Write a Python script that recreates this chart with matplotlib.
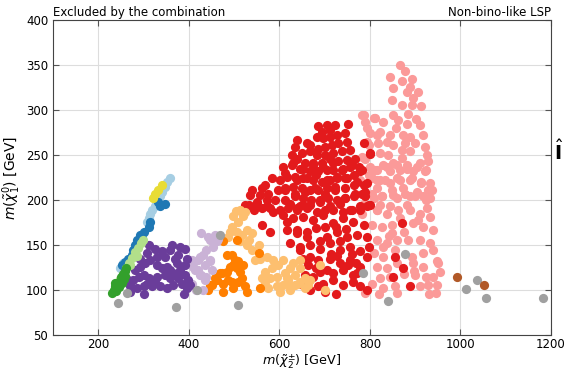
import matplotlib
matplotlib.use("Agg")
import matplotlib.pyplot as plt

# chargino mass (x) / neutralino mass (y) points in GeV, per group
gray_x = [244, 263, 372, 419, 470, 509, 785, 878, 839, 1012, 1036, 1056, 1182]
gray_y = [86, 97, 81, 100, 161, 83, 119, 140, 88, 101, 111, 91, 91]

brown_x = [993, 1051]
brown_y = [114, 106]

pink_x = [867, 878, 892, 845, 870, 889, 852, 881, 907, 896, 914, 848, 870, 892, 852,
          811, 789, 830, 863, 881, 911, 822, 800, 845, 874, 889, 918, 797, 819, 837,
          852, 878, 900, 922, 822, 870, 889, 926, 789, 830, 852, 881, 911, 929, 811,
          845, 867, 896, 922, 804, 833, 859, 889, 914, 933, 815, 848, 874, 903, 929,
          826, 859, 889, 918, 933, 845, 881, 926, 822, 786, 793,
          797, 815, 837, 859, 881, 903, 925, 822, 844, 867, 892, 914, 937, 804, 826,
          852, 878, 900, 925, 815, 837, 863, 889, 911, 933, 804, 826, 848, 896, 918,
          940, 815, 837, 859, 885, 911, 933, 808, 830, 856, 892, 918, 940, 815, 837,
          896, 918, 948, 822, 844, 900, 925, 940, 804, 830, 856, 911, 929, 948,
          790, 820, 860, 930, 945, 950, 955,
          782, 808, 793, 815, 782, 800, 815, 778, 808, 786, 815, 782,
          858, 884, 902, 870, 840, 866, 906, 848, 875, 828, 860, 898, 876, 842]
pink_y = [350, 343, 335, 337, 332, 326, 324, 320, 320, 313, 304, 311, 306, 306, 294,
          291, 287, 287, 289, 285, 283, 276, 274, 272, 272, 270, 272, 261, 263, 265,
          261, 263, 263, 259, 252, 256, 254, 250, 246, 239, 241, 239, 241, 243, 233,
          232, 233, 232, 232, 224, 222, 224, 222, 220, 219, 213, 211, 213, 209, 211,
          204, 202, 204, 204, 202, 193, 194, 191, 194, 294, 280,
          228, 233, 237, 239, 235, 237, 233, 222, 219, 222, 224, 219, 211, 207, 204,
          206, 207, 204, 200, 189, 185, 189, 189, 185, 181, 172, 170, 172, 174, 170,
          167, 156, 152, 156, 156, 156, 152, 141, 137, 144, 137, 141, 144, 126, 124,
          130, 126, 132, 113, 115, 117, 115, 115, 107, 102, 104, 104, 106, 106,
          97, 96, 97, 96, 97, 130, 120,
          294, 291, 265, 272, 248, 237, 222, 222, 202, 196, 189, 185,
          280, 296, 290, 247, 250, 180, 178, 163, 165, 148, 130, 121, 118, 160]

red_x = [686, 705, 723, 712, 694, 683, 697, 712, 727, 745, 752, 749, 730, 716, 701,
         686, 668, 660, 638, 635, 649, 668, 683, 701, 719, 738, 756, 767, 749, 730,
         712, 694, 675, 657, 638, 627, 627, 646, 668, 686, 705, 719, 738, 756, 775,
         778, 764, 745, 727, 712, 694, 675, 653, 635, 613, 602, 583, 568, 561, 539,
         535, 557, 576, 598, 613, 631, 649, 668, 686, 705, 723, 745, 764, 786, 782,
         764, 745, 727, 708, 690, 671, 653, 635, 613, 590, 572, 550, 532, 524, 543,
         561, 579, 602, 620, 638, 660, 683, 701, 719, 741, 760, 778, 800, 786, 793,
         609, 631, 653, 675, 697, 719, 741, 760, 778, 616, 638, 660, 682, 705, 727,
         749, 771, 793, 612, 635, 657, 679, 701, 723, 745, 767, 789, 624, 646, 668,
         690, 712, 734, 756, 778, 800, 609, 631, 653, 675, 697, 719, 741, 763, 786,
         616, 638, 660, 682, 705, 727, 749, 771, 793, 624, 646, 668, 690, 712, 734,
         756, 778, 797, 668, 686, 712, 734, 756, 778, 793, 690, 719, 741, 763, 675,
         697, 719, 741, 763, 778, 793, 686, 771,
         870, 856, 874, 852, 889, 800, 782, 789, 799,
         524, 550, 572, 587, 561, 579, 616, 638, 653, 638, 660, 646, 653, 664, 657,
         646, 668,
         700, 725, 748, 690, 715, 735, 680, 705, 728, 752, 770, 700, 725, 760]
red_y = [282, 283, 283, 278, 276, 270, 269, 270, 272, 274, 285, 265, 263, 261, 259,
         257, 261, 263, 267, 259, 252, 254, 250, 250, 252, 254, 256, 246, 244, 243,
         246, 241, 241, 241, 246, 250, 239, 235, 232, 232, 233, 233, 233, 237, 237,
         232, 228, 224, 224, 222, 220, 222, 224, 226, 230, 222, 224, 217, 213, 211,
         206, 206, 207, 211, 213, 215, 213, 211, 211, 213, 215, 213, 217, 217, 207,
         204, 202, 200, 202, 200, 200, 202, 204, 200, 200, 200, 198, 194, 191, 189,
         191, 191, 189, 191, 191, 191, 187, 189, 189, 187, 189, 189, 252, 263, 193,
         237, 241, 235, 239, 237, 241, 235, 239, 233, 226, 222, 224, 228, 222, 226,
         224, 220, 219, 211, 207, 209, 213, 207, 211, 202, 207, 204, 196, 193, 194,
         198, 193, 196, 189, 193, 194, 183, 180, 181, 178, 183, 174, 180, 176, 172,
         167, 163, 165, 169, 159, 165, 159, 161, 159, 152, 148, 150, 146, 152, 144,
         148, 143, 148, 137, 133, 135, 130, 133, 126, 137, 120, 119, 122, 117, 115,
         107, 111, 106, 109, 104, 100, 104, 119,
         174, 137, 124, 115, 104, 251, 233, 209, 195,
         194, 196, 193, 187, 172, 165, 176, 189, 194, 167, 159, 144, 135, 128, 117,
         107, 100,
         170, 170, 168, 155, 140, 155, 125, 122, 138, 128, 130, 98, 96, 140]

lorange_x = [498, 509, 520, 495, 506, 517, 528, 539, 513, 528, 539, 532, 487, 491, 557,
             572, 587, 598, 583, 568, 561, 579, 594, 613, 624, 620, 609, 594, 576, 568,
             601, 624, 635, 646, 657, 554, 546, 504, 514, 524,
             646, 668, 690, 701, 609, 631, 646, 635, 616, 657, 664, 624, 642]
lorange_y = [182, 176, 182, 170, 165, 161, 167, 163, 154, 150, 144, 156, 159, 165, 135,
             137, 133, 128, 124, 120, 113, 113, 115, 119, 124, 111, 106, 104, 102, 109,
             98, 100, 106, 109, 102, 150, 133, 188, 189, 187,
             133, 111, 128, 100, 133, 130, 124, 117, 113, 113, 106, 104, 107]

orange_x = [476, 495, 502, 498, 491, 506, 484, 513, 520, 517, 509, 524, 495, 476, 469,
            458, 451, 443, 476, 498, 528, 557, 554, 509, 487, 484, 473, 462, 447, 506]
orange_y = [154, 139, 133, 128, 126, 124, 120, 120, 128, 113, 109, 104, 109, 107, 119,
            113, 106, 100, 98, 102, 98, 102, 141, 132, 111, 139, 119, 111, 106, 156]

lpurple_x = [428, 443, 458, 462, 454, 439, 432, 421, 410, 414, 425, 439, 451, 447, 436,
             406, 417, 432, 447, 465, 425, 406, 410, 428, 436, 421, 447]
lpurple_y = [163, 159, 161, 154, 148, 144, 139, 133, 130, 122, 117, 115, 122, 132, 128,
             107, 100, 100, 156, 157, 137, 133, 126, 117, 111, 122, 133]

purple_x = [311, 325, 340, 362, 381, 392, 358, 377, 395, 329, 347, 314, 303, 292, 281,
            300, 311, 329, 347, 366, 381, 392, 399, 384, 366, 351, 336, 318, 300, 285,
            270, 266, 277, 289, 329, 351, 373, 392, 377, 358, 325, 307, 395, 403, 292,
            307, 370, 340, 358, 270, 300, 390]
purple_y = [150, 146, 143, 150, 148, 146, 144, 139, 135, 137, 137, 133, 130, 126, 122,
            117, 113, 115, 117, 119, 122, 117, 111, 107, 106, 102, 104, 104, 104, 102,
            104, 111, 111, 115, 128, 126, 130, 128, 113, 113, 109, 107, 102, 106, 135,
            141, 135, 124, 122, 98, 96, 96]

lblue_x = [358, 351, 347, 340, 336, 325, 318, 314, 311, 307, 255, 262, 248]
lblue_y = [224, 220, 215, 209, 204, 193, 189, 185, 180, 176, 130, 127, 124]

blue_x = [347, 337, 333, 311, 314, 300, 292, 285, 281, 277, 274, 266, 259, 252, 288, 296]
blue_y = [196, 193, 198, 170, 176, 165, 161, 156, 150, 144, 139, 135, 131, 128, 152, 158]

yellow_x = [340, 325, 322, 333]
yellow_y = [217, 207, 202, 211]

lgreen_x = [240, 248, 255, 262, 268, 275, 282, 288, 294, 299, 270, 285]
lgreen_y = [105, 112, 118, 124, 130, 136, 142, 147, 152, 156, 128, 138]

green_x = [230, 234, 238, 243, 247, 250, 255, 258, 262, 245, 252, 240, 256, 260, 236]
green_y = [97, 100, 104, 107, 110, 114, 118, 121, 124, 103, 108, 99, 112, 116, 108]

groups = [
    (pink_x, pink_y, "#fb9a99"),
    (red_x, red_y, "#e31a1c"),
    (lorange_x, lorange_y, "#fdbf6f"),
    (orange_x, orange_y, "#ff7f00"),
    (lpurple_x, lpurple_y, "#cab2d6"),
    (purple_x, purple_y, "#6a3d9a"),
    (lblue_x, lblue_y, "#a6cee3"),
    (blue_x, blue_y, "#1f78b4"),
    (yellow_x, yellow_y, "#e8dc35"),
    (lgreen_x, lgreen_y, "#b2df8a"),
    (green_x, green_y, "#33a02c"),
    (gray_x, gray_y, "#a0a0a0"),
    (brown_x, brown_y, "#b15928"),
]

fig = plt.figure(figsize=(5.68, 3.69), dpi=100)
ax = fig.add_axes([0.0933, 0.0921, 0.8767, 0.8537])

for xs, ys, c in groups:
    ax.scatter(xs, ys, s=44, color=c, linewidths=0, zorder=3)

ax.set_xlim(100, 1200)
ax.set_ylim(50, 400)
ax.set_xticks(range(200, 1201, 200))
ax.set_yticks(range(50, 401, 50))
ax.grid(True, color="#dddddd", linewidth=0.8, zorder=0)
ax.tick_params(direction="in", top=True, right=True, labelsize=8.5, length=4,
               color="#555555")
ax.tick_params(axis="x", pad=2.5)
for sp in ax.spines.values():
    sp.set_color("#444444")

ax.set_xlabel(r"$m(\tilde{\chi}^{\pm}_{2})$ [GeV]", fontsize=9.2)
ax.xaxis.set_label_coords(0.5, -0.053, transform=ax.transAxes)
ax.xaxis.label.set_va("top")
ax.set_ylabel(r"$m(\tilde{\chi}^{0}_{1})$ [GeV]", fontsize=10, labelpad=2)
ax.set_title("Excluded by the combination", loc="left", fontsize=8.5, pad=3)
ax.set_title("Non-bino-like LSP", loc="right", fontsize=8.5, pad=3)

# cropped element past the right edge
fig.text(0.975, 0.59, r"$\hat{\mathbf{I}}$", fontsize=14, ha="left", va="center")

fig.savefig("out.png", dpi=100)
